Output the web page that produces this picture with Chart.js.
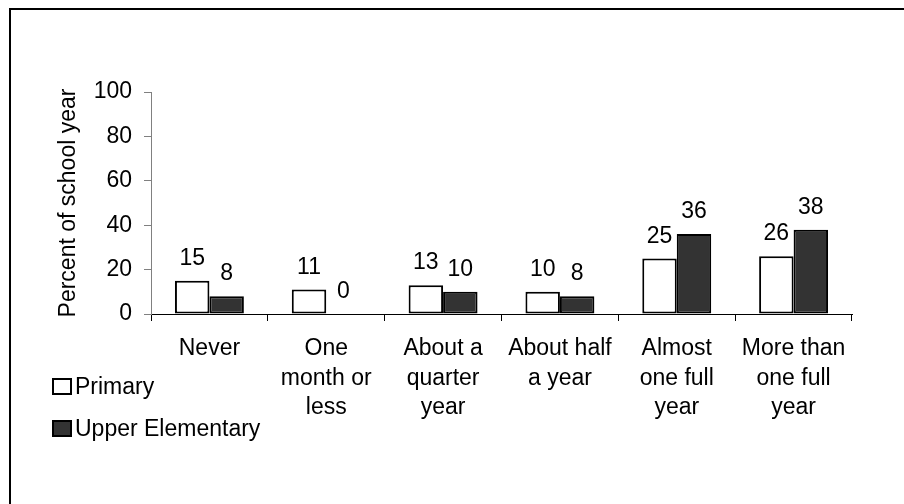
<!DOCTYPE html>
<html>
<head>
<meta charset="utf-8">
<script src="https://cdn.jsdelivr.net/npm/chart.js@4"></script>
<style>
    body {
        margin: 0;
        background: #fff;
        overflow: hidden;
        font-family: Arial, 'Liberation Sans', sans-serif;
    }
    .frame {
        position: absolute;
        left: 9px;
        top: 8px;
        width: 1000px;
        height: 1000px;
        border-top: 2px solid #000;
        border-left: 2px solid #000;
    }
    #wrap {
        position: absolute;
        left: 0;
        top: 0;
        width: 904px;
        height: 504px;
    }
</style>
</head>
<body>
<div class="frame"></div>
<div id="wrap"><canvas id="barChart" width="904" height="504"></canvas></div>
<script>
const categories = [
    ['Never'],
    ['One', 'month or', 'less'],
    ['About a', 'quarter', 'year'],
    ['About half', 'a year'],
    ['Almost', 'one full', 'year'],
    ['More than', 'one full', 'year']
];
const primary = [15, 11, 13, 10, 25, 26];
const upperElementary = [8, 0, 10, 8, 36, 38];
const yTicks = [0, 20, 40, 60, 80, 100];

const FONT = 'Arial, "Liberation Sans", sans-serif';
const SIZE = 23;

// value labels above each bar
const valueLabels = {
    id: 'valueLabels',
    afterDatasetsDraw(chart) {
        const ctx = chart.ctx;
        ctx.save();
        ctx.font = SIZE + 'px ' + FONT;
        ctx.fillStyle = '#000';
        ctx.textAlign = 'center';
        ctx.textBaseline = 'alphabetic';
        chart.data.datasets.forEach((ds, i) => {
            chart.getDatasetMeta(i).data.forEach((bar, j) => {
                ctx.fillText(String(ds.data[j]), bar.x, bar.y - 16);
            });
        });
        ctx.restore();
    }
};

// legend drawn lower left, stacked
const sideLegend = {
    id: 'sideLegend',
    afterDraw(chart) {
        const ctx = chart.ctx;
        ctx.save();
        ctx.font = SIZE + 'px ' + FONT;
        ctx.textBaseline = 'alphabetic';
        ctx.textAlign = 'left';
        chart.data.datasets.forEach((ds, i) => {
            const top = 378 + i * 42;
            ctx.fillStyle = ds.backgroundColor;
            ctx.fillRect(52, top, 20, 17);
            ctx.strokeStyle = '#000';
            ctx.lineWidth = 2;
            ctx.strokeRect(53, top + 1, 18, 15);
            ctx.fillStyle = '#000';
            ctx.fillText(ds.label, 75, top + 16);
        });
        ctx.restore();
    }
};

const ctx = document.getElementById('barChart').getContext('2d');
new Chart(ctx, {
    type: 'bar',
    data: {
        labels: categories,
        datasets: [{
            label: 'Primary',
            data: primary,
            backgroundColor: '#ffffff',
            borderColor: '#000000',
            borderWidth: 2,
            borderSkipped: false,
            categoryPercentage: 0.59,
            barPercentage: 1.0
        }, {
            label: 'Upper Elementary',
            data: upperElementary,
            backgroundColor: '#333333',
            borderColor: '#000000',
            borderWidth: 2,
            borderSkipped: false,
            categoryPercentage: 0.59,
            barPercentage: 1.0
        }]
    },
    options: {
        responsive: false,
        animation: false,
        layout: {
            padding: { left: 0, top: 92, right: 52, bottom: 0 }
        },
        plugins: {
            legend: { display: false },
            tooltip: { enabled: false }
        },
        scales: {
            x: {
                afterFit: (scale) => { scale.height = 190; },
                grid: {
                    drawOnChartArea: false,
                    drawTicks: true,
                    tickLength: 7,
                    color: '#000'
                },
                border: { display: true, color: '#000', width: 1 },
                ticks: {
                    color: '#000',
                    padding: 13,
                    maxRotation: 0,
                    autoSkip: false,
                    font: { family: FONT, size: SIZE, lineHeight: 1.28 }
                }
            },
            y: {
                min: 0,
                max: 100,
                afterFit: (scale) => { scale.width = 151; },
                afterBuildTicks: (scale) => {
                    scale.ticks = yTicks.map(v => ({ value: v }));
                },
                grid: {
                    drawOnChartArea: false,
                    drawTicks: true,
                    tickLength: 7,
                    color: '#808080'
                },
                border: { display: true, color: '#808080', width: 1 },
                ticks: {
                    color: '#000',
                    padding: 12,
                    font: { family: FONT, size: SIZE }
                },
                title: {
                    display: true,
                    text: 'Percent of school year',
                    color: '#000',
                    padding: { top: 55, bottom: 0 },
                    font: { family: FONT, size: SIZE }
                }
            }
        }
    },
    plugins: [valueLabels, sideLegend]
});
</script>
</body>
</html>
